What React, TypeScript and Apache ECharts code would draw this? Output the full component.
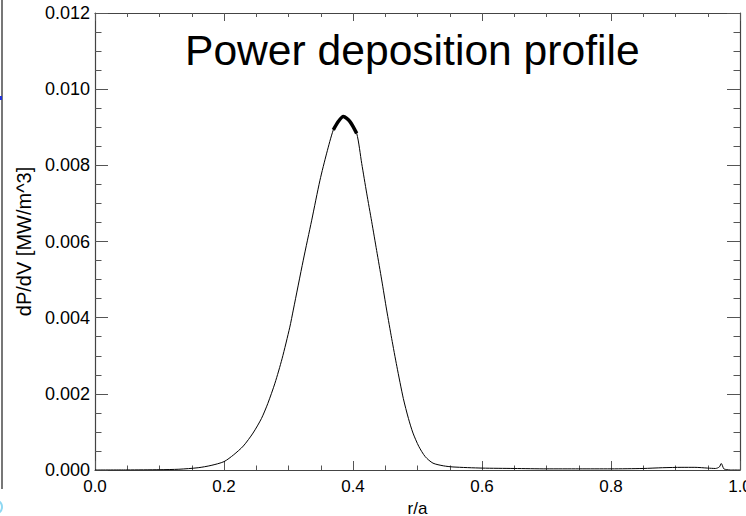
import React, { useEffect, useRef } from "react";
import * as echarts from "echarts";

const rValues = [0, 0.05, 0.1, 0.13, 0.16, 0.18, 0.2, 0.215, 0.23, 0.245, 0.258, 0.268, 0.279, 0.29, 0.302, 0.3074, 0.3229, 0.336, 0.3488, 0.3592, 0.3695, 0.3772, 0.385, 0.3953, 0.4057, 0.4135, 0.4212, 0.429, 0.4367, 0.4445, 0.4522, 0.46, 0.468, 0.478, 0.486, 0.493, 0.502, 0.512, 0.524, 0.54, 0.555, 0.6, 0.65, 0.7, 0.75, 0.8, 0.85, 0.88, 0.91, 0.93, 0.95, 0.962, 0.968, 0.971, 0.975, 0.98, 0.985, 1.0];
const dPdV = [0, 0.000002, 0.000008, 0.00002, 0.00006, 0.00012, 0.00022, 0.0004, 0.00063, 0.00097, 0.00135, 0.00175, 0.00228, 0.00292, 0.00375, 0.0042, 0.00551, 0.00656, 0.00761, 0.00832, 0.00893, 0.00915, 0.00928, 0.00915, 0.00884, 0.00805, 0.00727, 0.00652, 0.00576, 0.00499, 0.0042, 0.00345, 0.00272, 0.00188, 0.00135, 0.00097, 0.00062, 0.00035, 0.00018, 0.00011, 0.00008, 0.00005, 0.00004, 0.00003, 0.00003, 0.00003, 0.00004, 0.00006, 0.00007, 0.00007, 0.00005, 0.00004, 0.00008, 0.00017, 0.00003, 0.00001, 0, 0];
const xTicks = [0, 0.2, 0.4, 0.6, 0.8, 1.0];
const xMinorStep = 0.05;
const yTicks = [0, 0.002, 0.004, 0.006, 0.008, 0.01, 0.012];
const yMinorStep = 0.0005;
const titleText = "Power deposition profile";
const xName = "r/a";
const yName = "dP/dV [MW/m^3]";
const peakRange = [0.36, 0.412];

const FONT = "'Liberation Sans', Arial, Helvetica, sans-serif";
const TICK = "#555";

export default function App() {
  const ref = useRef<HTMLDivElement>(null);
  useEffect(() => {
    if (!ref.current) return;
    const chart = echarts.init(ref.current, undefined, { renderer: "svg" });
    const data = rValues.map((r, i) => [r, dPdV[i]]);
    const peakData = data.filter((d) => d[0] >= peakRange[0] && d[0] <= peakRange[1]);
    const xMin = xTicks[0];
    const xMax = xTicks[xTicks.length - 1];
    const yMin = yTicks[0];
    const yMax = yTicks[yTicks.length - 1];

    const mkX = (position: "top" | "bottom", interval: number, len: number, line: boolean, extra: any = {}) => ({
      type: "value",
      min: xMin,
      max: xMax,
      interval,
      position,
      splitLine: { show: false },
      axisLine: { show: line, onZero: false, lineStyle: { color: "#444", width: 1.2 } },
      axisTick: { show: true, inside: true, length: len, lineStyle: { color: TICK } },
      axisLabel: { show: false },
      ...extra,
    });
    const mkY = (position: "left" | "right", interval: number, len: number, line: boolean, extra: any = {}) => ({
      type: "value",
      min: yMin,
      max: yMax,
      interval,
      position,
      splitLine: { show: false },
      axisLine: { show: line, onZero: false, lineStyle: { color: "#444", width: 1.2 } },
      axisTick: { show: true, inside: true, length: len, lineStyle: { color: TICK } },
      axisLabel: { show: false },
      ...extra,
    });

    chart.setOption({
      animation: false,
      backgroundColor: "#fff",
      grid: { left: 95, right: 6, top: 13, bottom: 46, containLabel: false, outerBoundsMode: "none" },
      xAxis: [
        mkX("bottom", xTicks[1] - xTicks[0], 9, true, {
          name: xName,
          nameLocation: "middle",
          nameGap: 27,
          nameTextStyle: { color: "#000", fontSize: 17, fontFamily: FONT },
          axisLabel: {
            show: true,
            color: "#000",
            fontSize: 17,
            fontFamily: FONT,
            margin: 8,
            formatter: (v: number) => v.toFixed(1),
          },
        }),
        mkX("bottom", xMinorStep, 4.5, false),
        mkX("top", xTicks[1] - xTicks[0], 8, true),
        mkX("top", xMinorStep, 4, false),
      ],
      yAxis: [
        mkY("left", yTicks[1] - yTicks[0], 13, true, {
          name: yName,
          nameLocation: "middle",
          nameGap: 61,
          nameTextStyle: { color: "#000", fontSize: 20, fontFamily: FONT },
          axisLabel: {
            show: true,
            color: "#000",
            fontSize: 18,
            fontFamily: FONT,
            margin: 5,
            formatter: (v: number) => v.toFixed(3),
          },
        }),
        mkY("left", yMinorStep, 6.5, false),
        mkY("right", yTicks[1] - yTicks[0], 13, true),
        mkY("right", yMinorStep, 6.5, false),
      ],
      graphic: [
        {
          type: "text",
          left: 185,
          top: 28,
          style: {
            text: titleText,
            fontSize: 42.6,
            fontFamily: FONT,
            fill: "#000",
          },
        },
        {
          type: "line",
          shape: { x1: 2, y1: 0, x2: 2, y2: 489 },
          style: { stroke: "#777", lineWidth: 2 },
        },
        {
          type: "rect",
          shape: { x: 0, y: 96, width: 2, height: 4 },
          style: { fill: "#2233dd" },
        },
        {
          type: "circle",
          shape: { cx: -5, cy: 507, r: 7 },
          style: { fill: "none", stroke: "#8fd8f2", lineWidth: 2 },
        },
      ],
      series: [
        {
          type: "line",
          xAxisIndex: 0,
          yAxisIndex: 0,
          data,
          showSymbol: false,
          smooth: 0.25,
          lineStyle: { color: "#000", width: 1 },
          silent: true,
        },
        {
          type: "line",
          xAxisIndex: 0,
          yAxisIndex: 0,
          data: peakData,
          showSymbol: false,
          smooth: 0.25,
          lineStyle: { color: "#000", width: 3.5 },
          silent: true,
        },
      ],
    });
    return () => chart.dispose();
  }, []);
  return (
    <div
      ref={ref}
      style={{ position: "fixed", left: 0, top: 0, width: 746, height: 516, background: "#fff" }}
    />
  );
}
